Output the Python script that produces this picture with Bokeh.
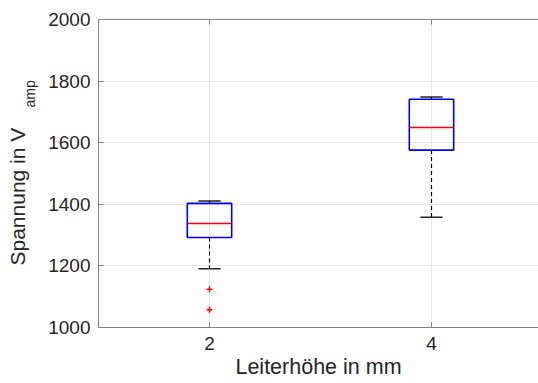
import numpy as np
from bokeh.plotting import figure
from bokeh.models import ColumnDataSource, Range1d, LinearAxis, FixedTicker, Title
from bokeh.embed import file_html
from bokeh.resources import INLINE

# ---- data ----
groups = ["2", "4"]
positions = [2, 4]
upper_whisker = [1411, 1748]
q3 = [1403, 1741]
median = [1338, 1649]
q1 = [1292, 1576]
lower_whisker = [1191, 1358]
outlier_x = [2, 2]
outlier_y = [1124, 1058]
x_ticks = [2, 4]
y_ticks = [1000, 1200, 1400, 1600, 1800, 2000]

BOX_HALF = 0.2
CAP_HALF = 0.1
FONT = "Liberation Sans"
TXT = "#262626"
AX = "#808080"

pos = np.array(positions, dtype=float)
src = ColumnDataSource(dict(
    x=pos, left=pos - BOX_HALF, right=pos + BOX_HALF,
    cl=pos - CAP_HALF, cr=pos + CAP_HALF,
    uw=upper_whisker, q3=q3, med=median, q1=q1, lw=lower_whisker,
))
osrc = ColumnDataSource(dict(x=outlier_x, y=outlier_y))

p = figure(width=538, height=383, output_backend="svg", toolbar_location=None,
           title_location=None,
           x_range=Range1d(1, 4.964), y_range=Range1d(1000, 2000),
           min_border_left=98, min_border_right=0, min_border_top=19, min_border_bottom=56,
           x_axis_location=None, y_axis_location=None)
p.outline_line_color = None
p.background_fill_color = "white"
p.border_fill_color = "white"

def style_axis(ax, ticks, labels=True):
    ax.ticker = FixedTicker(ticks=ticks)
    ax.axis_line_color = AX
    ax.axis_line_width = 1
    ax.major_tick_line_color = AX
    ax.major_tick_in = 5
    ax.major_tick_out = 0
    ax.minor_tick_line_color = None
    ax.major_label_text_font = FONT
    ax.major_label_text_color = TXT
    if labels:
        ax.major_label_text_font_size = "19px"
    else:
        ax.major_label_text_font_size = "1px"
        ax.major_label_text_color = None
        ax.major_label_standoff = 0

def make_title(text, size, align, offset, standoff=0, valign="bottom"):
    return Title(text=text, align=align, offset=offset, standoff=standoff,
                 vertical_align=valign,
                 text_font=FONT, text_font_size=size, text_font_style="normal",
                 text_color=TXT)

xb = LinearAxis()
style_axis(xb, x_ticks)
xb.major_label_standoff = 9
p.add_layout(xb, "below")
p.add_layout(make_title("Leiterhöhe in mm", "21.5px", "center", 0), "below")

yl = LinearAxis()
style_axis(yl, y_ticks)
yl.major_label_standoff = 8
p.add_layout(yl, "left")
p.add_layout(make_title("amp", "14px", "left", 220, standoff=11, valign="top"), "left")
p.add_layout(make_title("Spannung in V", "21px", "left", 62, standoff=-25), "left")

xt = LinearAxis()
style_axis(xt, x_ticks, labels=False)
p.add_layout(xt, "above")

p.xgrid.ticker = FixedTicker(ticks=x_ticks)
p.ygrid.ticker = FixedTicker(ticks=y_ticks)
for g in (p.xgrid, p.ygrid):
    g.grid_line_color = "#e6e6e6"
    g.grid_line_width = 1

# whiskers
p.segment(x0="x", y0="q3", x1="x", y1="uw", source=src, line_color="black",
          line_width=1.2, line_dash="4 3")
p.segment(x0="x", y0="q1", x1="x", y1="lw", source=src, line_color="black",
          line_width=1.2, line_dash="4 3")
# caps
p.segment(x0="cl", y0="uw", x1="cr", y1="uw", source=src, line_color="#222222", line_width=1.5)
p.segment(x0="cl", y0="lw", x1="cr", y1="lw", source=src, line_color="#222222", line_width=1.5)
# boxes
p.quad(left="left", right="right", top="q3", bottom="q1", source=src,
       fill_color=None, line_color="#0000ff", line_width=1.6)
# medians
p.segment(x0="left", y0="med", x1="right", y1="med", source=src, line_color="#ff0000", line_width=1.5)
# outliers
p.scatter(x="x", y="y", source=osrc, marker="cross", size=6, line_color="#ff0000", line_width=1.5)

open("out.html", "w").write(file_html(p, INLINE))
